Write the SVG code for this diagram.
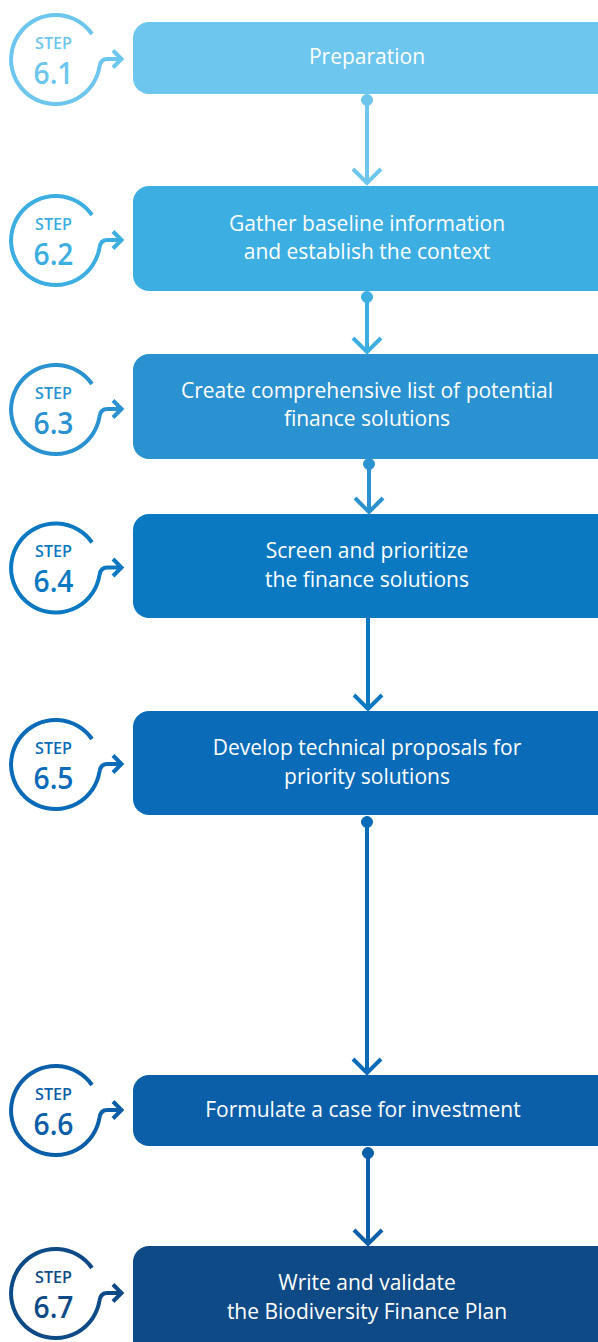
<svg xmlns="http://www.w3.org/2000/svg" xmlns:xlink="http://www.w3.org/1999/xlink" width="598" height="1342" viewBox="0 0 598 1342">
<style>
.box-text{font-family:"Open Sans","Noto Sans",sans-serif;font-size:21px;fill:#fff;text-anchor:middle}
.step{font-family:"Open Sans","Noto Sans",sans-serif;font-weight:600;text-anchor:middle}
.icon{fill:none;stroke-width:4;stroke-linecap:butt;stroke-linejoin:miter}
.conn{fill:none;stroke-width:4}
</style>
<defs>
<path id="ring" d="M36.5,-25 A44.5,44.5 0 1 0 44,7.5 Q45,0 52,0 L66,0 M57.5,-8.5 L66,0 L57.5,8.5"/>
</defs>
<rect width="598" height="1342" fill="#fff"/>
<g id="connectors">
<g stroke="#6dc6ee" fill="#6dc6ee"><circle cx="367" cy="100" r="5.5"/><path class="conn" d="M367,100 V183 M353,169 L367,183 L381,169"/></g>
<g stroke="#3daee2" fill="#3daee2"><circle cx="367" cy="297" r="5.5"/><path class="conn" d="M367,297 V352 M353,338 L367,352 L381,338"/></g>
<g stroke="#2a92d1" fill="#2a92d1"><circle cx="369" cy="464" r="5.5"/><path class="conn" d="M369,464 V512 M355,498 L369,512 L383,498"/></g>
<g stroke="#0a79c2"><path class="conn" d="M368,618 V709 M354,695 L368,709 L382,695"/></g>
<g stroke="#0a6cb8" fill="#0a6cb8"><circle cx="367" cy="822" r="5.5"/><path class="conn" d="M367,822 V1073 M353,1059 L367,1073 L381,1059"/></g>
<g stroke="#0b5ea8" fill="#0b5ea8"><circle cx="368" cy="1153" r="5.5"/><path class="conn" d="M368,1153 V1244 M354,1230 L368,1244 L382,1230"/></g>
</g>
<g id="step1">
<rect x="133" y="22" width="480" height="72" rx="16" fill="#6dc6ee"/>
<text class="box-text" x="367" y="64">Preparation</text>
<use xlink:href="#ring" class="icon" stroke="#6dc6ee" transform="translate(55.5,59)"/>
<g fill="#6dc6ee" class="step"><text x="53.5" y="48.5" font-size="17" textLength="37" lengthAdjust="spacingAndGlyphs">STEP</text><text x="53.5" y="83.5" font-size="30" textLength="40" lengthAdjust="spacingAndGlyphs">6.1</text></g>
</g>
<g id="step2">
<rect x="133" y="186" width="480" height="105" rx="16" fill="#3daee2"/>
<text class="box-text" x="367" y="231">Gather baseline information</text>
<text class="box-text" x="367" y="259">and establish the context</text>
<use xlink:href="#ring" class="icon" stroke="#3daee2" transform="translate(55.5,240)"/>
<g fill="#3daee2" class="step"><text x="53.5" y="229.5" font-size="17" textLength="37" lengthAdjust="spacingAndGlyphs">STEP</text><text x="53.5" y="264.5" font-size="30" textLength="40" lengthAdjust="spacingAndGlyphs">6.2</text></g>
</g>
<g id="step3">
<rect x="133" y="354" width="480" height="105" rx="16" fill="#2a92d1"/>
<text class="box-text" x="367" y="398">Create comprehensive list of potential</text>
<text class="box-text" x="367" y="426">finance solutions</text>
<use xlink:href="#ring" class="icon" stroke="#2a92d1" transform="translate(55.5,409)"/>
<g fill="#2a92d1" class="step"><text x="53.5" y="398.5" font-size="17" textLength="37" lengthAdjust="spacingAndGlyphs">STEP</text><text x="53.5" y="433.5" font-size="30" textLength="40" lengthAdjust="spacingAndGlyphs">6.3</text></g>
</g>
<g id="step4">
<rect x="133" y="514" width="480" height="104" rx="16" fill="#0a79c2"/>
<text class="box-text" x="367" y="558">Screen and prioritize</text>
<text class="box-text" x="367" y="587">the finance solutions</text>
<use xlink:href="#ring" class="icon" stroke="#0a79c2" transform="translate(55.5,567.5)"/>
<g fill="#0a79c2" class="step"><text x="53.5" y="557" font-size="17" textLength="37" lengthAdjust="spacingAndGlyphs">STEP</text><text x="53.5" y="592" font-size="30" textLength="40" lengthAdjust="spacingAndGlyphs">6.4</text></g>
</g>
<g id="step5">
<rect x="133" y="711" width="480" height="104" rx="16" fill="#0a6cb8"/>
<text class="box-text" x="367" y="755">Develop technical proposals for</text>
<text class="box-text" x="367" y="784">priority solutions</text>
<use xlink:href="#ring" class="icon" stroke="#0a6cb8" transform="translate(55.5,764)"/>
<g fill="#0a6cb8" class="step"><text x="53.5" y="753.5" font-size="17" textLength="37" lengthAdjust="spacingAndGlyphs">STEP</text><text x="53.5" y="788.5" font-size="30" textLength="40" lengthAdjust="spacingAndGlyphs">6.5</text></g>
</g>
<g id="step6">
<rect x="133" y="1075" width="480" height="71" rx="16" fill="#0b5ea8"/>
<text class="box-text" x="363" y="1117">Formulate a case for investment</text>
<use xlink:href="#ring" class="icon" stroke="#0b5ea8" transform="translate(55.5,1110)"/>
<g fill="#0b5ea8" class="step"><text x="53.5" y="1099.5" font-size="17" textLength="37" lengthAdjust="spacingAndGlyphs">STEP</text><text x="53.5" y="1134.5" font-size="30" textLength="40" lengthAdjust="spacingAndGlyphs">6.6</text></g>
</g>
<g id="step7">
<rect x="133" y="1246" width="480" height="110" rx="16" fill="#0e4a86"/>
<text class="box-text" x="367" y="1290">Write and validate</text>
<text class="box-text" x="367" y="1319">the Biodiversity Finance Plan</text>
<use xlink:href="#ring" class="icon" stroke="#0e4a86" transform="translate(55.5,1293)"/>
<g fill="#0e4a86" class="step"><text x="53.5" y="1282.5" font-size="17" textLength="37" lengthAdjust="spacingAndGlyphs">STEP</text><text x="53.5" y="1317.5" font-size="30" textLength="40" lengthAdjust="spacingAndGlyphs">6.7</text></g>
</g>
</svg>
